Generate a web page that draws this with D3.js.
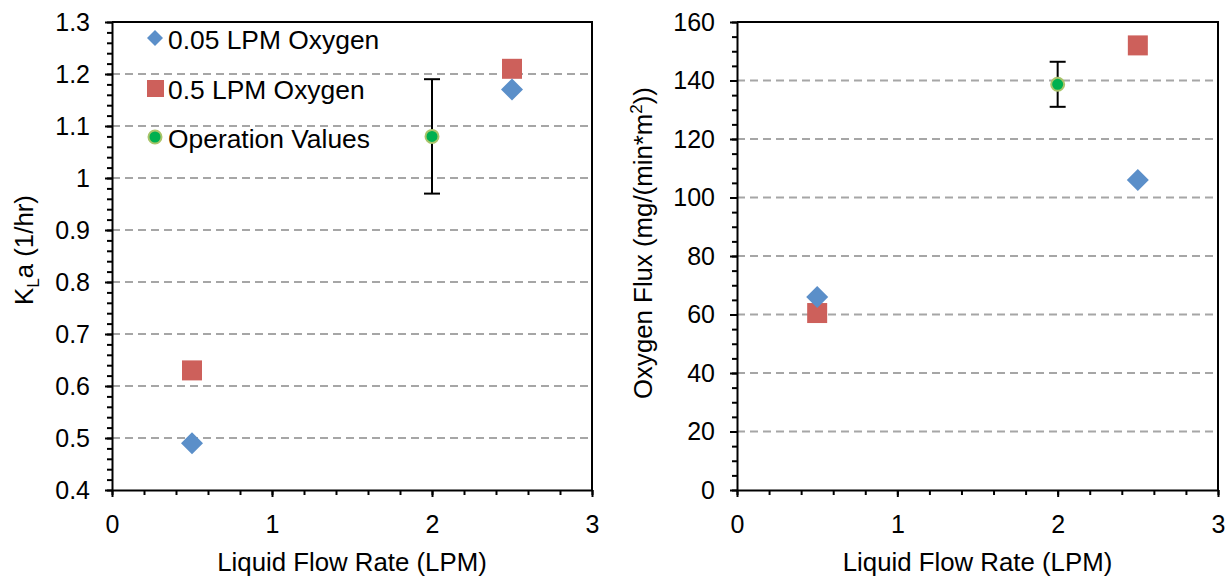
<!DOCTYPE html>
<html>
<head>
<meta charset="utf-8">
<script src="https://cdn.jsdelivr.net/npm/d3@7"></script>
<style>
  html, body { margin: 0; padding: 0; background: #fff; }
  svg { display: block; font-family: "Liberation Sans", Arial, sans-serif; }
</style>
</head>
<body>
<svg id="chart" width="1228" height="578"></svg>
<script>
// Liquid flow rates tested (LPM)
const flowRates = [0.5, 2.5];
// Mass transfer coefficient KLa (1/hr)
const kla005 = [0.49, 1.17];
const kla05 = [0.63, 1.21];
// Oxygen flux (mg/(min*m2))
const flux005 = [66, 106];
const flux05 = [60.5, 152];
// Operating point with error bars
const opFlow = [2];
const opKla = [1.08];
const opKlaErr = [0.11];
const opFlux = [138.7];
const opFluxErr = [7.7];

const xTicks = [0, 1, 2, 3];
const klaTicks = [0.4, 0.5, 0.6, 0.7, 0.8, 0.9, 1.0, 1.1, 1.2, 1.3];
const fluxTicks = [0, 20, 40, 60, 80, 100, 120, 140, 160];

const seriesNames = ["0.05 LPM Oxygen", "0.5 LPM Oxygen", "Operation Values"];

const BLUE = "#5B8FC9";
const RED = "#CD605B";
const GREEN = "#00B050";
const GREEN_EDGE = "#A9C46A";
const GRID = "#A6A6A6";

const TICK_FONT = 25;
const TITLE_FONT = 25.8;
const LEGEND_FONT = 26.4;

const svg = d3.select("#chart");

function panel(cfg) {
  const g = svg.append("g");
  const x = d3.scaleLinear().domain([0, 3]).range([cfg.left, cfg.right]);
  const y = d3.scaleLinear().domain(cfg.yDomain).range([cfg.bottom, cfg.top]);

  // dashed horizontal gridlines
  g.append("g").selectAll("line")
    .data(cfg.yTicks.filter(v => v > cfg.yDomain[0] + 1e-9 && v < cfg.yDomain[1] - 1e-9))
    .join("line")
    .attr("x1", cfg.left).attr("x2", cfg.right)
    .attr("y1", d => y(d)).attr("y2", d => y(d))
    .attr("stroke", GRID).attr("stroke-width", 2)
    .attr("stroke-dasharray", "8,5");

  // minor ticks
  const yMinor = d3.range(cfg.yDomain[0], cfg.yDomain[1] + 1e-9, cfg.yMinorStep);
  const xMinor = d3.range(0, 3 + 1e-9, 0.2);
  g.append("g")
    .attr("transform", `translate(${cfg.left},0)`)
    .call(d3.axisLeft(y).tickValues(yMinor).tickSize(5).tickSizeOuter(0).tickFormat(""))
    .call(s => s.select(".domain").remove())
    .call(s => s.selectAll("line").attr("stroke", "#000").attr("stroke-width", 2));
  g.append("g")
    .attr("transform", `translate(0,${cfg.bottom})`)
    .call(d3.axisBottom(x).tickValues(xMinor).tickSize(5).tickSizeOuter(0).tickFormat(""))
    .call(s => s.select(".domain").remove())
    .call(s => s.selectAll("line").attr("stroke", "#000").attr("stroke-width", 2));

  // major axes
  g.append("g")
    .attr("transform", `translate(${cfg.left},0)`)
    .call(d3.axisLeft(y).tickValues(cfg.yTicks).tickSize(7).tickSizeOuter(0)
      .tickPadding(15).tickFormat(cfg.yFormat))
    .call(s => s.select(".domain").attr("stroke", "#000").attr("stroke-width", 2))
    .call(s => s.selectAll("line").attr("stroke", "#000").attr("stroke-width", 2))
    .call(s => s.selectAll("text").attr("font-size", TICK_FONT).attr("fill", "#000")
      .attr("font-family", "Liberation Sans, Arial, sans-serif"));
  g.append("g")
    .attr("transform", `translate(0,${cfg.bottom})`)
    .call(d3.axisBottom(x).tickValues(xTicks).tickSize(7).tickSizeOuter(0)
      .tickPadding(18).tickFormat(d3.format("d")))
    .call(s => s.select(".domain").attr("stroke", "#000").attr("stroke-width", 2))
    .call(s => s.selectAll("line").attr("stroke", "#000").attr("stroke-width", 2))
    .call(s => s.selectAll("text").attr("font-size", TICK_FONT).attr("fill", "#000")
      .attr("font-family", "Liberation Sans, Arial, sans-serif"));

  // top and right frame
  g.append("path")
    .attr("d", `M${cfg.left},${cfg.top}H${cfg.right}V${cfg.bottom}`)
    .attr("fill", "none").attr("stroke", "#000").attr("stroke-width", 2);

  // x axis title
  g.append("text")
    .attr("x", (cfg.left + cfg.right) / 2).attr("y", 571)
    .attr("text-anchor", "middle").attr("font-size", TITLE_FONT).attr("fill", "#000")
    .text("Liquid Flow Rate (LPM)");

  // y axis title
  const yt = g.append("text")
    .attr("transform", `translate(${cfg.yTitleX},${cfg.yTitleY}) rotate(-90)`)
    .attr("text-anchor", "middle").attr("font-size", TITLE_FONT).attr("fill", "#000");
  cfg.yTitle(yt);

  // error bar for the operating point
  const eb = g.append("g").attr("stroke", "#000").attr("stroke-width", 2);
  cfg.op.forEach((v, i) => {
    const cx = x(opFlow[i]);
    const lo = y(v - cfg.opErr[i]), hi = y(v + cfg.opErr[i]);
    eb.append("line").attr("x1", cx).attr("x2", cx).attr("y1", lo).attr("y2", hi);
    eb.append("line").attr("x1", cx - 8).attr("x2", cx + 8).attr("y1", lo).attr("y2", lo);
    eb.append("line").attr("x1", cx - 8).attr("x2", cx + 8).attr("y1", hi).attr("y2", hi);
  });

  // 0.5 LPM oxygen squares
  g.append("g").selectAll("rect")
    .data(flowRates.map((f, i) => [f, cfg.s2[i]]))
    .join("rect")
    .attr("x", d => x(d[0]) - 10).attr("y", d => y(d[1]) - 10)
    .attr("width", 20).attr("height", 20)
    .attr("fill", RED);

  // 0.05 LPM oxygen diamonds
  g.append("g").selectAll("path")
    .data(flowRates.map((f, i) => [f, cfg.s1[i]]))
    .join("path")
    .attr("transform", d => `translate(${x(d[0])},${y(d[1])})`)
    .attr("d", "M0,-11L11,0L0,11L-11,0Z")
    .attr("fill", BLUE);

  // operating point
  g.append("g").selectAll("circle")
    .data(opFlow.map((f, i) => [f, cfg.op[i]]))
    .join("circle")
    .attr("cx", d => x(d[0])).attr("cy", d => y(d[1]))
    .attr("r", 6.5).attr("fill", GREEN)
    .attr("stroke", GREEN_EDGE).attr("stroke-width", 2);

  return g;
}

const left = panel({
  left: 112, right: 592, top: 22, bottom: 490,
  yDomain: [0.4, 1.3], yTicks: klaTicks, yMinorStep: 0.02,
  yFormat: d => String(+d.toFixed(1)),
  s1: kla005, s2: kla05, op: opKla, opErr: opKlaErr,
  yTitleX: 33, yTitleY: 250,
  yTitle: t => {
    t.append("tspan").text("K");
    t.append("tspan").attr("font-size", 17).attr("dy", 6).text("L");
    t.append("tspan").attr("dy", -6).text("a (1/hr)");
  }
});

const right = panel({
  left: 737, right: 1218, top: 22, bottom: 490,
  yDomain: [0, 160], yTicks: fluxTicks, yMinorStep: 5,
  yFormat: d3.format("d"),
  s1: flux005, s2: flux05, op: opFlux, opErr: opFluxErr,
  yTitleX: 652, yTitleY: 243,
  yTitle: t => {
    t.append("tspan").text("Oxygen Flux (mg/(min*m");
    t.append("tspan").attr("font-size", 17).attr("dy", -10).text("2");
    t.append("tspan").attr("dy", 10).text("))");
  }
});

// legend inside the left panel
const legend = svg.append("g");
const legendY = [38, 88, 137];
legend.append("path")
  .attr("transform", `translate(155,${legendY[0]})`)
  .attr("d", "M0,-8L8,0L0,8L-8,0Z").attr("fill", BLUE);
legend.append("rect")
  .attr("x", 147).attr("y", legendY[1] - 8).attr("width", 17).attr("height", 17)
  .attr("fill", RED);
legend.append("circle")
  .attr("cx", 155).attr("cy", legendY[2]).attr("r", 6.5)
  .attr("fill", GREEN).attr("stroke", GREEN_EDGE).attr("stroke-width", 2);
legend.selectAll("text")
  .data(seriesNames)
  .join("text")
  .attr("x", 168).attr("y", (d, i) => legendY[i] + 11)
  .attr("font-size", LEGEND_FONT).attr("fill", "#000")
  .text(d => d);
</script>
</body>
</html>
